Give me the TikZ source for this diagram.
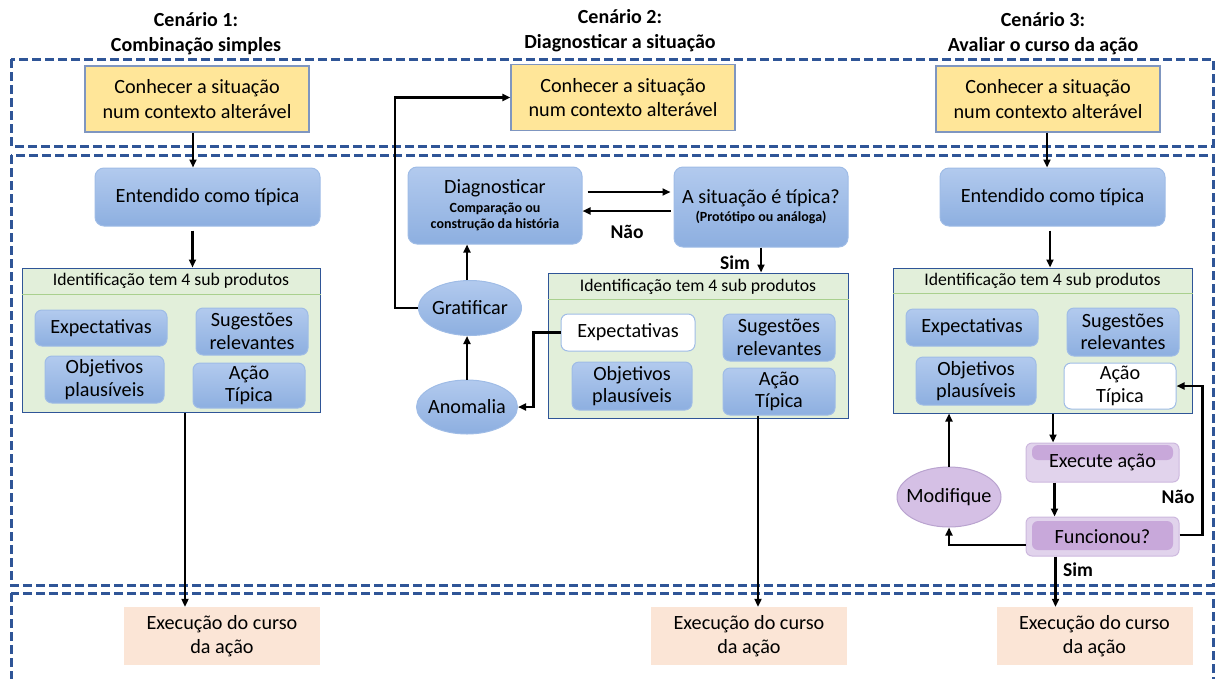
\documentclass[tikz,border=0pt]{standalone}
\usepackage{fontspec}
\setmainfont{Carlito}
\usetikzlibrary{arrows.meta,shapes.geometric,calc}

\definecolor{frameblue}{HTML}{2F5597}
\definecolor{yellowfill}{HTML}{FFE699}
\definecolor{yellowedge}{HTML}{7F96C0}
\definecolor{bluetop}{HTML}{B2CAEE}
\definecolor{bluebot}{HTML}{8DAFE0}
\definecolor{blueedge}{HTML}{9FBCE6}
\definecolor{greenfill}{HTML}{E2EFDA}
\definecolor{greenline}{HTML}{A9D08E}
\definecolor{peach}{HTML}{FBE5D6}
\definecolor{lilaclight}{HTML}{E1D3EC}
\definecolor{lilacedge}{HTML}{CDB8DE}
\definecolor{lilacstrip}{HTML}{C8A8DA}
\definecolor{lilacoval}{HTML}{D5C0E5}
\definecolor{lilacovaledge}{HTML}{B9A3CF}

\tikzset{
  frame/.style={draw=frameblue, line width=3pt, dash pattern=on 9pt off 4pt},
  hdr/.style={font=\fontsize{20}{25}\selectfont\bfseries, align=center},
  situ/.style={draw=yellowedge, line width=1.2pt, fill=yellowfill,
    minimum width=224pt, minimum height=66pt, align=center, inner sep=0pt,
    font=\fontsize{20.2}{24.5}\selectfont},
  blueshade/.style={top color=bluetop, bottom color=bluebot, draw=blueedge, line width=1pt},
  proc/.style={blueshade, rounded corners=9pt, align=center, inner sep=0pt,
    font=\fontsize{20.2}{24}\selectfont},
  item/.style={blueshade, rounded corners=7pt, align=center, inner sep=0pt,
    font=\fontsize{20.2}{22.5}\selectfont},
  hollow/.style={fill=white, draw=blueedge, line width=1pt, rounded corners=7pt,
    align=center, inner sep=0pt, font=\fontsize{20.2}{22.5}\selectfont},
  idbox/.style={draw=frameblue, line width=1pt, fill=greenfill, inner sep=0pt},
  idtitle/.style={font=\fontsize{17.7}{20}\selectfont},
  subline/.style={},
  exec/.style={fill=peach, minimum width=196pt, minimum height=58pt, align=center,
    inner sep=0pt, font=\fontsize{20.2}{24}\selectfont},
  oval/.style={ellipse, blueshade, inner sep=0pt, font=\fontsize{20.2}{22}\selectfont},
  lilacbox/.style={fill=lilaclight, draw=lilacedge, line width=1pt, rounded corners=6pt,
    inner sep=0pt, font=\fontsize{20.2}{22}\selectfont,
    minimum width=153pt, minimum height=39pt},
  arr/.style={line width=2.2pt, -{Triangle[length=8pt,width=7pt]}},
  lbl/.style={font=\fontsize{19.5}{22}\selectfont\bfseries},
}
\newcommand{\smallbold}[1]{{\fontsize{14}{16}\selectfont\bfseries #1}}

\begin{document}
\begin{tikzpicture}[x=1pt,y=-1pt]
\useasboundingbox (0,0) rectangle (1218,678);

% dashed stage frames
\draw[frame] (11,59) rectangle (1213,146);
\draw[frame] (11,155) rectangle (1213,585);
\draw[frame] (11,593) rectangle (1213,695);

% column headings
\node[hdr] (h1) at (196,34) {Cenário 1:\\Combinação simples};
\node[hdr] (h2) at (620,31) {Cenário 2:\\Diagnosticar a situação};
\node[hdr] (h3) at (1043,34) {Cenário 3:\\Avaliar o curso da ação};

% ---------- Scenario 1 ----------
\node[situ] (y1) at (197,99) {Conhecer a situação\\num contexto alterável};
\node[proc, minimum width=225pt, minimum height=58pt] (e1) at (207.5,197) {Entendido como típica};
\node[idbox, minimum width=298pt, minimum height=144pt] (g1) at (171,340) {};
\draw[greenline, line width=1.2pt] ([yshift=-27pt]g1.north west) -- ([yshift=-27pt]g1.north east);
\node[idtitle] (t1) at ([yshift=-13.5pt]g1.north) {Identificação tem 4 sub produtos};
\node[item, minimum width=132pt, minimum height=36pt] (ex1) at (101,328) {Expectativas};
\node[item, minimum width=112pt, minimum height=47pt] (su1) at (252,331.5) {Sugestões\\relevantes};
\node[item, minimum width=119pt, minimum height=47pt] (ob1) at (104.5,379.5) {Objetivos\\plausíveis};
\node[item, minimum width=112pt, minimum height=45pt] (ac1) at (249,385.5) {Ação\\Típica};
\node[exec] (x1) at (222,636) {Execução do curso\\da ação};

\coordinate (a1) at ([xshift=-4pt]y1.south);
\draw[arr] (a1) -- (a1 |- e1.north);
\coordinate (a2) at ([xshift=-15pt]e1.south);
\draw[arr, shorten <=4pt] (a2) -- (a2 |- g1.north);
\coordinate (a3) at ([xshift=14pt]g1.south);
\draw[arr] (a3) -- (a3 |- x1.north);

% ---------- Scenario 2 ----------
\node[situ] (y2) at (623,97.5) {Conhecer a situação\\num contexto alterável};
\node[proc, minimum width=174pt, minimum height=77pt] (dg) at (495,205.5)
  {Diagnosticar\\[-5pt]\smallbold{Comparação ou}\\[-8pt]\smallbold{construção da história}};
\node[proc, minimum width=174pt, minimum height=80pt] (tp) at (761,207)
  {A situação é típica?\\[-6pt]\smallbold{(Protótipo ou análoga)}};
\node[idbox, minimum width=300pt, minimum height=145pt] (g2) at (698,345.5) {};
\draw[greenline, line width=1.2pt] ([yshift=-27pt]g2.north west) -- ([yshift=-27pt]g2.north east);
\node[idtitle] (t2) at ([yshift=-14pt]g2.north) {Identificação tem 4 sub produtos};
\node[hollow, minimum width=134pt, minimum height=37pt] (ex2) at (628,332.5) {Expectativas};
\node[item, minimum width=112pt, minimum height=47pt] (su2) at (779,337.5) {Sugestões\\relevantes};
\node[item, minimum width=120pt, minimum height=48pt] (ob2) at (632,386) {Objetivos\\plausíveis};
\node[item, minimum width=112pt, minimum height=47pt] (ac2) at (779,391.5) {Ação\\Típica};
\node[oval, minimum width=103pt, minimum height=55pt] (gr) at (470,308) {\makebox[0pt]{Gratificar}};
\node[oval, minimum width=101pt, minimum height=54pt] (an) at (467,407) {\makebox[0pt]{Anomalia}};
\node[exec] (x2) at (749,636) {Execução do curso\\da ação};

\coordinate (q1) at ([yshift=13.5pt]dg.east);
\draw[arr, shorten <=5pt, shorten >=3pt] (q1) -- (q1 -| tp.west);
\coordinate (q2) at ([yshift=-4pt]tp.west);
\draw[arr, shorten <=3pt] (q2) -- (q2 -| dg.east);
\node[lbl] (nao2) at (627,232) {Não};
\draw[arr] (tp.south) -- (tp.south |- g2.north);
\node[lbl] (sim2) at (735,263) {Sim};
\coordinate (p1) at ([xshift=-3pt]gr.north);
\draw[arr] (p1) -- (p1 |- dg.south);
\draw[arr] (an.north) -- (an.north |- gr.south);
\draw[arr] (gr.west) -- ++(-23,0) |- (y2.west);
\draw[arr] (ex2.west) -- ++(-27,0) |- (an.east);
\coordinate (a4) at ([xshift=-21pt]ac2.south);
\draw[arr] (a4) -- (a4 |- x2.north);

% ---------- Scenario 3 ----------
\node[situ] (y3) at (1048,99) {Conhecer a situação\\num contexto alterável};
\node[proc, minimum width=225pt, minimum height=58pt] (e3) at (1052.5,197) {Entendido como típica};
\node[idbox, minimum width=299pt, minimum height=145pt] (g3) at (1042.5,340.5) {};
\draw[greenline, line width=1.2pt] ([yshift=-26pt]g3.north west) -- ([yshift=-26pt]g3.north east);
\node[idtitle] (t3) at ([yshift=-13pt]g3.north) {Identificação tem 4 sub produtos};
\node[item, minimum width=132pt, minimum height=37pt] (ex3) at (972,327.5) {Expectativas};
\node[item, minimum width=112pt, minimum height=48pt] (su3) at (1123,332) {Sugestões\\relevantes};
\node[item, minimum width=120pt, minimum height=48pt] (ob3) at (976,381) {Objetivos\\plausíveis};
\node[hollow, minimum width=112pt, minimum height=46pt] (ac3) at (1120,386) {Ação\\Típica};
\node[lilacbox, path picture={\fill[lilacstrip]
    ([xshift=6pt,yshift=-2pt]path picture bounding box.north west) rectangle
    ([xshift=-6pt,yshift=-17pt]path picture bounding box.north east);}]
  (ea) at (1102.5,462.5) {Execute ação};
\node[lilacbox, path picture={\fill[lilacstrip]
    ([xshift=6pt,yshift=-4pt]path picture bounding box.north west) rectangle
    ([xshift=-6pt,yshift=6pt]path picture bounding box.south east);}]
  (fu) at (1102.5,536.5) {Funcionou?};
\node[ellipse, fill=lilacoval, draw=lilacovaledge, line width=1pt, inner sep=0pt,
  minimum width=104pt, minimum height=60pt, font=\fontsize{20.2}{22}\selectfont]
  (mo) at (949,497) {\makebox[0pt]{Modifique}};
\node[exec] (x3) at (1094.5,636) {Execução do curso\\da ação};

\coordinate (b1) at ([xshift=-1pt]y3.south);
\draw[arr] (b1) -- (b1 |- e3.north);
\coordinate (b2) at ([xshift=-2.5pt]e3.south);
\draw[arr, shorten <=4pt] (b2) -- (b2 |- g3.north);
\coordinate (b3) at ([xshift=10.5pt]g3.south);
\draw[arr] (b3) -- (b3 |- ea.north);
\coordinate (b4) at ([xshift=-48pt]ea.south);
\draw[arr] (b4) -- (b4 |- fu.north);
\coordinate (b5) at ([xshift=-47pt]fu.south);
\draw[arr] (b5) -- (b5 |- x3.north);
\coordinate (b6) at ([yshift=-8.5pt]fu.west);
\draw[arr] (b6) -| (mo.south);
\draw[arr] (mo.north) -- (mo.north |- g3.south);
\coordinate (b7) at ([yshift=1.5pt]fu.east);
\draw[arr] (b7) -- ++(23,0) |- (ac3.east);
\node[lbl] (nao3) at (1178,497) {Não};
\node[lbl] (sim3) at (1078,570) {Sim};

\end{tikzpicture}
\end{document}
